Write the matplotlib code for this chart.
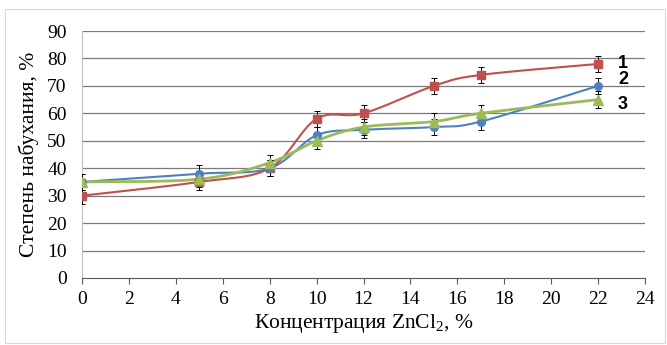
import numpy as np
import matplotlib
matplotlib.use("Agg")
import matplotlib.pyplot as plt
from matplotlib.patches import Rectangle

SERIF = "Liberation Serif"
plt.rcParams["font.family"] = SERIF
plt.rcParams["mathtext.fontset"] = "custom"
plt.rcParams["mathtext.rm"] = SERIF
plt.rcParams["mathtext.it"] = SERIF + ":italic"

x = [0, 5, 8, 10, 12, 15, 17, 22]
s1 = [30, 35, 40, 58, 60, 70, 74, 78]
s2 = [35, 38, 40, 52, 54, 55, 57, 70]
s3 = [35, 36, 42, 50, 55, 57, 60, 65]
err = 3
labels = ["1", "2", "3"]
colors = ["#c0504d", "#4f81bd", "#9bbb59"]
markers = ["s", "o", "^"]
xticks = list(range(0, 25, 2))
yticks = list(range(0, 91, 10))


def smooth(xs, ys, n=30, t=0.5):
    xs = np.asarray(xs, float)
    ys = np.asarray(ys, float)
    px, py = [xs[0]], [ys[0]]
    for i in range(len(xs) - 1):
        p0 = np.array([xs[max(i - 1, 0)], ys[max(i - 1, 0)]])
        p1 = np.array([xs[i], ys[i]])
        p2 = np.array([xs[i + 1], ys[i + 1]])
        p3 = np.array([xs[min(i + 2, len(xs) - 1)], ys[min(i + 2, len(xs) - 1)]])
        c1 = p1 + (p2 - p0) * t / 3
        c2 = p2 - (p3 - p1) * t / 3
        u = np.linspace(0, 1, n)[1:]
        b = ((1 - u) ** 3)[:, None] * p1 + (3 * (1 - u) ** 2 * u)[:, None] * c1 \
            + (3 * (1 - u) * u ** 2)[:, None] * c2 + (u ** 3)[:, None] * p2
        px.extend(b[:, 0])
        py.extend(b[:, 1])
    return np.array(px), np.array(py)


fig = plt.figure(figsize=(6.67, 3.45), dpi=100)
fig.patches.append(Rectangle((5 / 667, 2 / 345), 660 / 667, 334 / 345,
                             transform=fig.transFigure, fill=False,
                             edgecolor="#d9d9d9", lw=0.8))
ax = fig.add_axes([82 / 667, (345 - 278) / 345, (645 - 82) / 667, (278 - 31) / 345])

for yv in yticks[1:]:
    ax.axhline(yv, color="#7a7a7a", lw=0.9, zorder=0)

series = [s1, s2, s3]
for ys, c, m, lab in zip(series, colors, markers, labels):
    sx, sy = smooth(x, ys)
    lw = 2.0 if m == "^" else 1.5
    ax.plot(sx, sy, color=c, lw=lw, zorder=2)
    ax.errorbar(x, ys, yerr=err, fmt="none", ecolor="black", elinewidth=0.7,
                capsize=2, capthick=0.7, zorder=3)
    ms = 7 if m == "^" else 5.5
    ax.plot(x, ys, ls="none", marker=m, color=c, ms=ms, zorder=4)

lab_kw = dict(fontsize=13, fontweight="bold", family="Liberation Sans",
              va="center", ha="left")
ax.text(22.85, s1[-1] + 0.3, labels[0], **lab_kw)
ax.text(22.85, s2[-1] + 2.5, labels[1], **lab_kw)
ax.text(22.85, s3[-1] - 1.8, labels[2], **lab_kw)

ax.set_xlim(0, 24)
ax.set_ylim(0, 90)
ax.set_xticks(xticks)
ax.set_yticks(yticks)
ax.set_xticklabels([str(v) for v in xticks], family=SERIF, fontsize=14)
ax.set_yticklabels([str(v) for v in yticks], family=SERIF, fontsize=14)
for sp in ["top", "right"]:
    ax.spines[sp].set_visible(False)
ax.spines["left"].set_color("#bfbfbf")
ax.spines["bottom"].set_color("#595959")
ax.tick_params(axis="y", length=0, pad=11)
ax.tick_params(axis="x", length=4, direction="out", color="#595959", pad=5)
ax.set_xlabel("Концентрация ZnCl$_2$, %", family=SERIF, fontsize=15.5, labelpad=3)
ax.set_ylabel("Степень набухания, %", family=SERIF, fontsize=15.5, labelpad=6)

fig.savefig("out.png", dpi=100)
